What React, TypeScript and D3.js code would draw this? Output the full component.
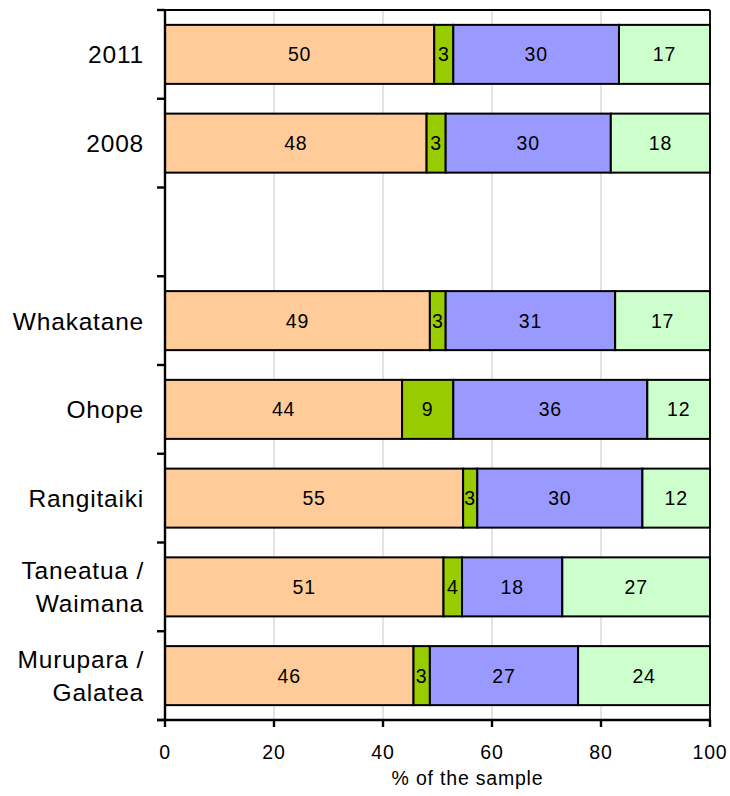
import React from "react";
import * as d3 from "d3";

const categories = ["2011", "2008", "", "Whakatane", "Ohope", "Rangitaiki", "Taneatua /\nWaimana", "Murupara /\nGalatea"];
const seriesNames = ["s1", "s2", "s3", "s4"];
const seriesColors = ["#FFCC99", "#99CC00", "#9999FF", "#CCFFCC"];
// segment values (% of sample)
const s1Values = [49.4, 48.0, null, 48.6, 43.5, 54.7, 51.1, 45.6];
const s2Values = [3.5, 3.5, null, 2.9, 9.4, 2.6, 3.4, 3.0];
const s3Values = [30.4, 30.3, null, 31.1, 35.6, 30.3, 18.4, 27.2];
const s4Values = [16.7, 18.2, null, 17.4, 11.5, 12.4, 27.1, 24.2];
// labels as printed in the bars
const s1Labels = ["50", "48", "", "49", "44", "55", "51", "46"];
const s2Labels = ["3", "3", "", "3", "9", "3", "4", "3"];
const s3Labels = ["30", "30", "", "31", "36", "30", "18", "27"];
const s4Labels = ["17", "18", "", "17", "12", "12", "27", "24"];
const xTicks = [0, 20, 40, 60, 80, 100];
const xTitle = "% of the sample";

const W = 730, H = 796;
const left = 165, right = 710, top = 10, bottom = 720;
const font = "'Liberation Sans', Arial, sans-serif";

export default function App() {
  const x = d3.scaleLinear().domain([0, 100]).range([left, right]);
  const y = d3.scaleBand<string>().domain(categories.map((_, i) => String(i))).range([top, bottom]).paddingInner(0.335).paddingOuter(0.1675);
  const yOuter = d3.scaleBand<string>().domain(categories.map((_, i) => String(i))).range([top, bottom]);
  const values = [s1Values, s2Values, s3Values, s4Values];
  const labels = [s1Labels, s2Labels, s3Labels, s4Labels];
  const rows = categories.map((c, i) => {
    const d: any = { key: String(i) };
    seriesNames.forEach((s, j) => (d[s] = values[j][i] ?? 0));
    return d;
  });
  const stacked = d3.stack<any>().keys(seriesNames)(rows);
  const bw = y.bandwidth();

  return (
    <svg width={W} height={H} style={{ position: "absolute", left: 0, top: 0, background: "#fff" }}>
      {xTicks.filter((t) => t > 0 && t < 100).map((t) => (
        <line key={"g" + t} x1={x(t)} x2={x(t)} y1={top} y2={bottom} stroke="#c8c8c8" strokeWidth={1} />
      ))}
      {stacked.map((layer, j) =>
        layer.map((seg, i) => {
          if (values[j][i] == null) return null;
          const x0 = x(seg[0]), x1 = x(seg[1]);
          const yy = y(String(i))!;
          return (
            <g key={j + "-" + i}>
              <rect x={x0} y={yy} width={x1 - x0} height={bw} fill={seriesColors[j]} stroke="#000" strokeWidth={2} />
              <text x={(x0 + x1) / 2} y={yy + bw / 2 + 7} textAnchor="middle" fontFamily={font} fontSize={19.5} letterSpacing={0.8} fill="#000">
                {labels[j][i]}
              </text>
            </g>
          );
        })
      )}
      {/* plot border top/right */}
      <line x1={left} x2={right} y1={top} y2={top} stroke="#000" strokeWidth={1.8} />
      <line x1={right} x2={right} y1={top} y2={bottom} stroke="#000" strokeWidth={1.8} />
      {/* y axis */}
      <line x1={left} x2={left} y1={top - 1} y2={bottom + 1} stroke="#000" strokeWidth={2.4} />
      {d3.range(categories.length + 1).map((k) => {
        const yy = top + k * yOuter.step();
        return <line key={"yt" + k} x1={left - 8} x2={left} y1={yy} y2={yy} stroke="#000" strokeWidth={2.4} />;
      })}
      {/* x axis */}
      <line x1={left - 8} x2={right + 1} y1={bottom} y2={bottom} stroke="#000" strokeWidth={2.4} />
      {xTicks.map((t) => (
        <g key={"xt" + t}>
          <line x1={x(t)} x2={x(t)} y1={bottom} y2={bottom + 7} stroke="#000" strokeWidth={2.4} />
          <text x={x(t)} y={759} textAnchor="middle" fontFamily={font} fontSize={19.5} letterSpacing={0.8} fill="#000">
            {t}
          </text>
        </g>
      ))}
      <text x={(left + right) / 2 + 30} y={785} textAnchor="middle" fontFamily={font} fontSize={19.5} letterSpacing={0.8} fill="#000">
        {xTitle}
      </text>
      {categories.map((c, i) => {
        const lines = c.split("\n");
        const cy = yOuter(String(i))! + yOuter.step() / 2;
        const lh = 33;
        return (
          <text key={"yl" + i} textAnchor="end" fontFamily={font} fontSize={24.5} letterSpacing={0.8} fill="#000">
            {lines.map((ln, k) => (
              <tspan key={k} x={144} y={cy + 9 + (k - (lines.length - 1) / 2) * lh}>
                {ln}
              </tspan>
            ))}
          </text>
        );
      })}
    </svg>
  );
}
